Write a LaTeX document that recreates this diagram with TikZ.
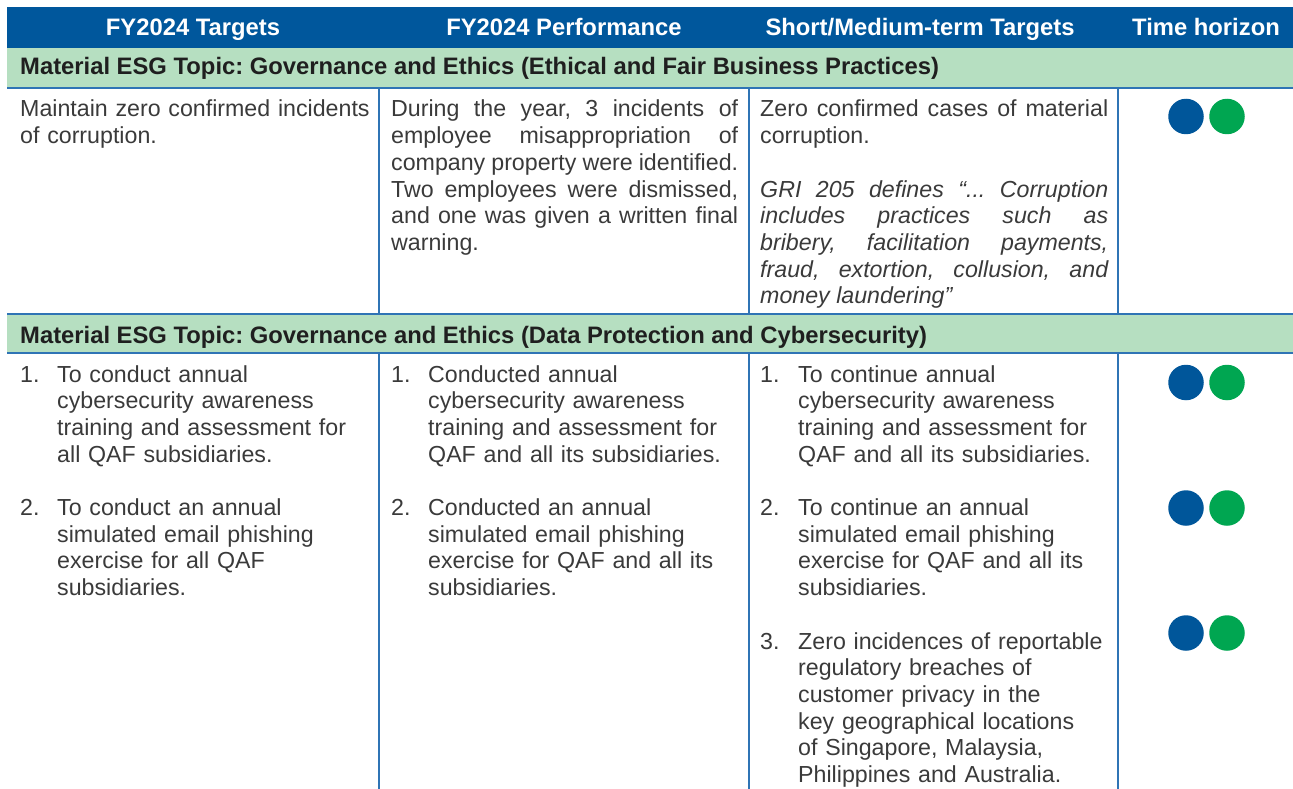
\documentclass[tikz,border=0pt]{standalone}
\usepackage{fontspec}
\setmainfont{Liberation Sans}
\frenchspacing
\definecolor{headblue}{HTML}{00579C}
\definecolor{topicgreen}{HTML}{B6DFC1}
\definecolor{rulecol}{HTML}{2F74B5}
\definecolor{dotblue}{HTML}{00569A}
\definecolor{dotgreen}{HTML}{00A651}
\definecolor{bodytext}{HTML}{3A3A3A}
\tikzset{
  headcell/.style={text=white,font=\fontsize{23.8}{28}\selectfont\bfseries\frenchspacing,anchor=base,inner sep=0pt},
  topiccell/.style={text=black!88,font=\fontsize{23.8}{28}\selectfont\bfseries\frenchspacing,anchor=base west,inner sep=0pt},
  bodycell/.style={text=bodytext,font=\fontsize{23.2}{26.7}\selectfont\frenchspacing,anchor=base west,inner sep=0pt,align=left},
  justcell/.style={bodycell,align=justify},
  quotecell/.style={justcell,font=\fontsize{23.2}{26.7}\selectfont\itshape\frenchspacing},
  itemno/.style={text=bodytext,font=\fontsize{23.2}{26.7}\selectfont,anchor=base west,inner sep=0pt},
  bluedot/.style={circle,fill=dotblue,minimum size=35.5pt,inner sep=0pt},
  greendot/.style={circle,fill=dotgreen,minimum size=35.5pt,inner sep=0pt}
}
\begin{document}
\begin{tikzpicture}[x=1pt,y=-1pt]
  \useasboundingbox (0,0) rectangle (1293,789);
  % bands
  \fill[headblue] (7,7) rectangle (1293,48);
  \fill[topicgreen] (7,48) rectangle (1293,88);
  \fill[topicgreen] (7,314) rectangle (1293,353);
  % rules
  \begin{scope}[draw=rulecol,line width=1.1pt]
    \draw (7,88) -- (1293,88);
    \draw (7,314) -- (1293,314);
    \draw (7,353) -- (1293,353);
    \draw (379,88) -- (379,314);
    \draw (749,88) -- (749,314);
    \draw (1118,88) -- (1118,314);
    \draw (379,353) -- (379,789);
    \draw (749,353) -- (749,789);
    \draw (1118,353) -- (1118,789);
  \end{scope}

  % header
  \node[headcell] (hd1) at (193,36) {FY2024 Targets};
  \node[headcell] (hd2) at (564,36) {FY2024 Performance};
  \node[headcell] (hd3) at (920,36) {Short/Medium-term Targets};
  \node[headcell] (hd4) at (1206,36) {Time horizon};

  % topics
  \node[topiccell] (tp1) at (20,75) {Material ESG Topic: Governance and Ethics (Ethical and Fair Business Practices)};
  \node[topiccell] (tp2) at (20,343) {Material ESG Topic: Governance and Ethics (Data Protection and Cybersecurity)};

  % row 1
  \node[bodycell,text width=355pt] (r1c1) at (20,117) {Maintain zero confirmed incidents\\of corruption.};
  \node[justcell,text width=347pt] (r1c2) at (391,117) {During the year, 3 incidents of\linebreak employee misappropriation of\linebreak company property were identified.\linebreak Two employees were dismissed,\linebreak and one was given a written final\linebreak warning.};
  \node[justcell,text width=348pt] (r1c3) at (760,117) {Zero confirmed cases of material\linebreak corruption.};
  \node[quotecell,text width=348pt] (r1gri) at (760,197) {GRI 205 defines “... Corruption\linebreak includes practices such as\linebreak bribery, facilitation payments,\linebreak fraud, extortion, collusion, and\linebreak money laundering”};
  \node[bluedot] (h1b) at (1186,116.5) {};
  \node[greendot] (h1g) at (1227,116.5) {};

  % row 2
  \node[itemno] (a1n) at (20,382) {1.};
  \node[bodycell,text width=315pt] (a1) at (57,382) {To conduct annual\\cybersecurity awareness\\training and assessment for\\all QAF subsidiaries.};
  \node[itemno] (a2n) at (20,515.5) {2.};
  \node[bodycell,text width=315pt] (a2) at (57,515.5) {To conduct an annual\\simulated email phishing\\exercise for all QAF\\subsidiaries.};

  \node[itemno] (b1n) at (391,382) {1.};
  \node[bodycell,text width=315pt] (b1) at (428,382) {Conducted annual\\cybersecurity awareness\\training and assessment for\\QAF and all its subsidiaries.};
  \node[itemno] (b2n) at (391,515.5) {2.};
  \node[bodycell,text width=315pt] (b2) at (428,515.5) {Conducted an annual\\simulated email phishing\\exercise for QAF and all its\\subsidiaries.};

  \node[itemno] (c1n) at (760,382) {1.};
  \node[bodycell,text width=315pt] (c1) at (798,382) {To continue annual\\cybersecurity awareness\\training and assessment for\\QAF and all its subsidiaries.};
  \node[itemno] (c2n) at (760,515.5) {2.};
  \node[bodycell,text width=315pt] (c2) at (798,515.5) {To continue an annual\\simulated email phishing\\exercise for QAF and all its\\subsidiaries.};
  \node[itemno] (c3n) at (760,649) {3.};
  \node[bodycell,text width=315pt] (c3) at (798,649) {Zero incidences of reportable\\regulatory breaches of\\customer privacy in the\\key geographical locations\\of Singapore, Malaysia,\\Philippines and Australia.};

  \node[bluedot] (h2b) at (1186,382.5) {};
  \node[greendot] (h2g) at (1227,382.5) {};
  \node[bluedot] (h3b) at (1186,508) {};
  \node[greendot] (h3g) at (1227,508) {};
  \node[bluedot] (h4b) at (1186,633) {};
  \node[greendot] (h4g) at (1227,633) {};
\end{tikzpicture}
\end{document}
